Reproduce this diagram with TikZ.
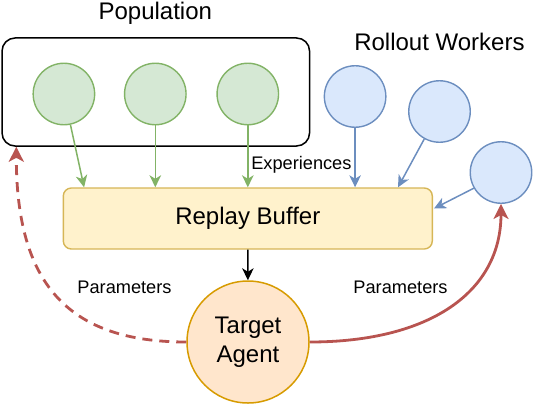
\documentclass[tikz,border=0pt]{standalone}
\usepackage{fontspec}
\setmainfont{Liberation Sans}
\usetikzlibrary{arrows.meta}
\definecolor{gfill}{HTML}{D5E8D4}
\definecolor{gline}{HTML}{82B366}
\definecolor{bfill}{HTML}{DAE8FC}
\definecolor{bline}{HTML}{6C8EBF}
\definecolor{yfill}{HTML}{FFF2CC}
\definecolor{yline}{HTML}{D6B656}
\definecolor{ofill}{HTML}{FFE6CC}
\definecolor{oline}{HTML}{D79B00}
\definecolor{rline}{HTML}{B85450}
\tikzset{
  big/.style={font=\fontsize{24}{29.5}\selectfont},
  small/.style={font=\fontsize{18.2}{21}\selectfont},
  gcirc/.style={circle, draw=gline, fill=gfill, line width=1.4pt, minimum size=61.5pt, inner sep=0pt},
  bcirc/.style={circle, draw=bline, fill=bfill, line width=1.4pt, minimum size=61.5pt, inner sep=0pt},
  tip/.style={-{Stealth[length=12pt,width=11.5pt,inset=3.5pt]}},
  garrow/.style={tip, draw=gline, line width=1.5pt},
  barrow/.style={tip, draw=bline, line width=1.5pt},
  karrow/.style={tip, draw=black, line width=1.5pt},
  rarrow/.style={-{Stealth[length=15pt,width=15pt,inset=4pt]}, draw=rline, line width=2.8pt},
}
\begin{document}
\begin{tikzpicture}[x=1pt,y=-1pt]
\useasboundingbox (0,0) rectangle (534,404);
% population box
\node[draw=black, line width=1.5pt, rounded corners=13pt, minimum width=307.5pt, minimum height=108pt, inner sep=0pt] (pop) at (155.8,92) {};
\node[big] (poplab) at (155.3,13) {Population};
\node[big] (rolllab) at (439.4,42) {Rollout Workers};
% circles
\node[gcirc] (g1) at (63.9,94) {};
\node[gcirc] (g2) at (155.3,94) {};
\node[gcirc] (g3) at (247.8,94) {};
\node[bcirc] (b1) at (355.1,96.5) {};
\node[bcirc] (b2) at (439.5,111.5) {};
\node[bcirc] (b3) at (501,172.5) {};
% replay buffer
\node[draw=yline, fill=yfill, line width=1.4pt, rounded corners=8pt, minimum width=369pt, minimum height=61pt, inner sep=0pt, big] (buf) at (247.8,218.5) {Replay Buffer};
% target agent
\node[circle, draw=oline, fill=ofill, line width=1.5pt, minimum size=122pt, inner sep=0pt, big, align=center] (ta) at (248,342) {Target\\Agent};
% labels
\node[small] (exp) at (301.4,165) {Experiences};
\node[small] (parl) at (124.5,287) {Parameters};
\node[small] (parr) at (400.5,287) {Parameters};
% arrows
\draw[garrow] (g1.-78) -- ([xshift=21.5pt]buf.north west);
\draw[garrow] (g2) -- (g2 |- buf.north);
\draw[garrow] (g3) -- (g3 |- buf.north);
\draw[barrow] (b1) -- (b1 |- buf.north);
\draw[barrow] (b2.-119) -- ([xshift=-35pt]buf.north east);
\draw[barrow] (b3.-150) -- ([xshift=1pt,yshift=10pt]buf.east);
\draw[karrow] (buf) -- (ta);
\draw[rarrow, dash pattern=on 10pt off 7pt] (ta.west) .. controls +(-120,0) and +(0,135) .. ([xshift=15pt]pop.south west);
\draw[rarrow] (ta.east) .. controls +(120,0) and +(0,88) .. (b3.south);
\end{tikzpicture}
\end{document}
